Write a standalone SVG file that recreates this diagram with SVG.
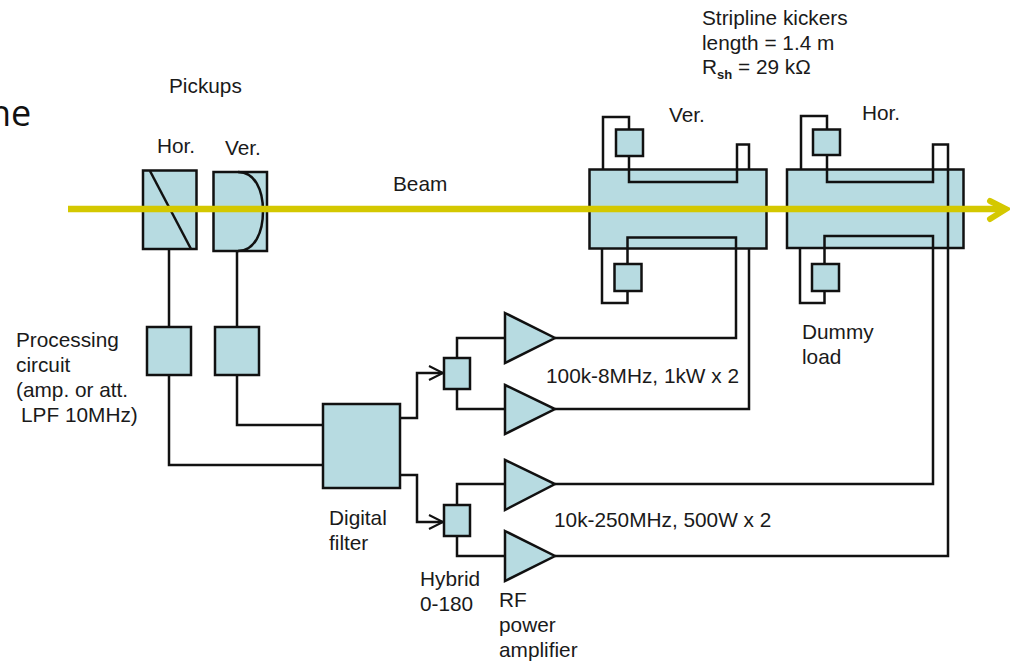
<svg xmlns="http://www.w3.org/2000/svg" width="1010" height="661" viewBox="0 0 1010 661">
<style>
.n{fill:#b7dbe1;stroke:#111;stroke-width:2.5}
.w{fill:none;stroke:#111;stroke-width:2.5;stroke-linejoin:miter}
.t{font-family:"Liberation Sans",Arial,sans-serif;font-size:20.800px;fill:#1a1a1a}
.b{fill:none;stroke:#d4c800}
</style>
<defs>
<marker id="arr" markerUnits="userSpaceOnUse" markerWidth="20" markerHeight="20" refX="15" refY="8" orient="auto"><path d="M1 1L15 8L1 15" fill="none" stroke="#111" stroke-width="2"/></marker>
</defs>
<rect width="1010" height="661" fill="#fff"/>
<text x="-11" y="126" font-family="'Open Sans',sans-serif" font-size="36" fill="#111">ne</text>

<g id="kicker-ver"><rect class="n" x="589.500" y="169.500" width="177" height="79"/></g>
<g id="kicker-hor"><rect class="n" x="787" y="169.500" width="176.500" height="78.500"/></g>

<g id="connectors">
<path class="w" d="M169 249V327M169 375V465H323"/>
<path class="w" d="M237 251V327M237 375V425H323"/>
<path class="w" marker-end="url(#arr)" d="M400 418H417V373H443"/>
<path class="w" marker-end="url(#arr)" d="M400 475H417V522H443"/>
<path class="w" d="M505 338H457V358M457 389V409H505"/>
<path class="w" d="M505 484H457V505M457 536V556H505"/>
<path class="w" d="M555 338H736V237.500H627.500V264M627.500 291V303H602V248"/>
<path class="w" d="M555 409H749V248"/>
<path class="w" d="M555 484H933V236H824.500V264M824.500 291V303H800V248"/>
<path class="w" d="M555 556H948V144.500H933V182H827V155M827 130V116H801V169"/>
<path class="w" d="M603 169V117H629V130M629 156V182H737V144.500H749V169"/>
</g>

<g id="pickup-hor"><rect class="n" x="143" y="170.500" width="53.500" height="78.500"/><path class="w" d="M150 171L191 249"/></g>
<g id="pickup-ver"><rect class="n" x="213.500" y="172" width="53.500" height="79"/><path class="w" d="M238 172C255 172 263 190 263 211C263 232 255 251 238 251"/></g>
<g id="proc-hor"><rect class="n" x="147" y="327" width="44" height="48"/></g>
<g id="proc-ver"><rect class="n" x="215" y="327" width="44" height="48"/></g>
<g id="digital-filter"><rect class="n" x="323" y="404" width="77" height="84"/></g>
<g id="hybrid-1"><rect class="n" x="444" y="358" width="26" height="31"/></g>
<g id="hybrid-2"><rect class="n" x="444" y="505" width="26" height="31"/></g>
<g id="amp-1"><path class="n" d="M505 313L555 338L505 363Z"/></g>
<g id="amp-2"><path class="n" d="M505 385L555 409L505 434Z"/></g>
<g id="amp-3"><path class="n" d="M505 460L555 484L505 510Z"/></g>
<g id="amp-4"><path class="n" d="M505 531L555 556L505 581Z"/></g>
<g id="load-1"><rect class="n" x="616" y="129.500" width="27" height="26.500"/></g>
<g id="load-2"><rect class="n" x="614.500" y="264" width="27" height="27"/></g>
<g id="load-3"><rect class="n" x="813" y="129.500" width="27" height="25.500"/></g>
<g id="load-4"><rect class="n" x="812" y="264" width="27" height="27"/></g>

<g id="beam"><path class="b" stroke-width="6.500" d="M68 209H1005"/><path class="b" stroke-width="6" stroke-linecap="round" d="M990 201L1006 209L990 219"/></g>

<g id="labels">
<text class="t" x="169" y="93">Pickups</text>
<text class="t" x="157" y="153">Hor.</text>
<text class="t" x="225" y="155">Ver.</text>
<text class="t" x="393" y="191">Beam</text>
<text class="t" x="702" y="25">Stripline kickers</text>
<text class="t" x="702" y="50">length = 1.4 m</text>
<text class="t" x="702" y="74">R<tspan font-size="13" font-weight="bold" dy="5">sh</tspan><tspan dy="-5"> = 29 kΩ</tspan></text>
<text class="t" x="669" y="122">Ver.</text>
<text class="t" x="862" y="120">Hor.</text>
<text class="t" x="16" y="347">Processing</text>
<text class="t" x="16" y="372">circuit</text>
<text class="t" x="16" y="397">(amp. or att.</text>
<text class="t" x="21" y="422">LPF 10MHz)</text>
<text class="t" x="802" y="339">Dummy</text>
<text class="t" x="802" y="364">load</text>
<text class="t" x="546" y="383">100k-8MHz, 1kW x 2</text>
<text class="t" x="554" y="527">10k-250MHz, 500W x 2</text>
<text class="t" x="329" y="525">Digital</text>
<text class="t" x="329" y="550">filter</text>
<text class="t" x="420" y="586">Hybrid</text>
<text class="t" x="420" y="611">0-180</text>
<text class="t" x="499" y="607">RF</text>
<text class="t" x="499" y="632">power</text>
<text class="t" x="499" y="657">amplifier</text>
</g>
</svg>
